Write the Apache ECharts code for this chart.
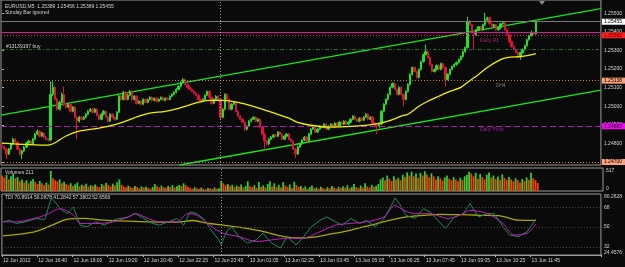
<!DOCTYPE html>
<html><head><meta charset="utf-8">
<script src="https://cdn.jsdelivr.net/npm/echarts@6/dist/echarts.min.js"></script>
<style>html,body{margin:0;padding:0;background:#0a0a0a;}#c{width:625px;height:267px;}</style>
</head><body><div id="c"></div>
<script>
// ---- data (prices in points: 1e-5 above 1.24000) ----
const timeLabels = ['12 Jun 2012','12 Jun 16:40','12 Jun 18:00','12 Jun 19:20','12 Jun 20:40','12 Jun 22:25','12 Jun 23:45','13 Jun 01:05','13 Jun 02:25','13 Jun 03:45','13 Jun 05:05','13 Jun 06:25','13 Jun 07:45','13 Jun 09:05','13 Jun 10:25','13 Jun 11:45'];
const priceTicks = [700,800,900,1000,1100,1200,1300,1400,1500];
const firstOpen = 790;
const closePts = [
781,770,743,770,797,823,807,770,743,759,
781,802,813,797,823,850,866,839,856,834,
823,818,1064,1102,1037,984,1021,1064,1011,995,
1011,973,995,941,920,941,930,941,957,973,
984,968,984,952,930,957,973,941,920,957,
941,930,968,1054,1037,1075,1037,1059,1080,1037,
1054,1016,1027,1011,1037,1021,1037,1048,1032,1043,
1027,1037,1048,1032,1043,1037,1054,1064,1075,1091,
1107,1128,1144,1118,1102,1091,1080,1070,1059,1037,
1027,1037,1059,1080,1048,1016,1037,1054,1037,941,
984,1064,1037,984,1011,1021,973,947,930,914,
877,893,920,930,941,920,930,888,850,813,
797,823,834,845,839,861,850,823,839,850,
823,813,770,743,781,797,818,834,813,850,
877,888,861,877,893,888,904,877,893,904,
888,909,893,914,904,920,904,914,930,947,
930,920,936,925,941,957,930,941,909,898,
893,904,973,1011,1037,1064,1102,1123,1091,1064,
1102,1064,1037,1080,1118,1171,1209,1187,1155,1198,
1241,1278,1294,1262,1225,1187,1198,1219,1198,1230,
1209,1144,1171,1198,1214,1225,1235,1251,1268,1294,
1316,1455,1439,1401,1385,1412,1428,1412,1439,1465,
1476,1444,1428,1439,1412,1423,1444,1449,1412,1385,
1348,1321,1305,1289,1273,1289,1305,1326,1358,1380,
1396,1389,1455];
const highPts = [
796,786,774,776,803,830,828,812,775,765,
787,808,820,818,829,856,874,870,862,860,
840,828,1134,1134,1110,1045,1030,1075,1107,1018,
1018,1016,1002,1000,946,948,947,947,963,980,
990,990,991,989,957,963,979,978,946,963,
962,946,974,1062,1060,1083,1080,1066,1088,1085,
1060,1059,1033,1032,1043,1042,1042,1054,1053,1048,
1048,1043,1053,1053,1048,1048,1059,1070,1081,1097,
1114,1135,1152,1149,1123,1107,1096,1086,1075,1064,
1043,1043,1064,1086,1086,1053,1043,1059,1059,1043,
990,1070,1070,1043,1016,1027,1027,979,952,936,
920,898,925,936,946,946,936,936,893,856,
818,829,840,850,850,866,866,856,845,856,
856,829,818,775,786,802,823,840,840,856,
882,893,893,882,898,898,909,909,898,909,
909,914,914,920,920,925,925,920,936,952,
952,936,941,941,947,963,963,947,947,914,
904,909,979,1016,1043,1070,1107,1128,1128,1096,
1107,1107,1070,1086,1123,1177,1214,1214,1193,1203,
1246,1284,1332,1300,1268,1230,1203,1225,1225,1235,
1235,1214,1177,1203,1219,1230,1241,1257,1273,1300,
1321,1482,1465,1444,1407,1417,1433,1433,1444,1503,
1482,1482,1449,1444,1444,1428,1449,1455,1455,1417,
1391,1353,1326,1310,1294,1294,1310,1332,1364,1385,
1407,1401,1456];
const lowPts = [
776,764,716,738,765,792,801,764,735,716,
754,776,797,790,792,818,845,833,834,828,
817,812,812,1055,1030,976,978,1015,1000,988,
990,966,968,935,823,912,924,925,936,952,
968,962,963,946,924,925,951,935,913,915,
935,924,925,963,1030,1032,1031,1032,1053,1030,
1032,1010,1011,1005,1006,1016,1016,1032,1027,1027,
1022,1022,1032,1027,1027,1032,1032,1049,1059,1070,
1086,1102,1122,1112,1096,1086,1075,1064,1054,1032,
1021,1022,1032,1054,1043,1010,1011,1032,1032,925,
935,978,1032,978,978,1005,968,941,925,909,
866,871,888,914,925,914,914,882,845,765,
790,792,818,829,834,834,845,818,818,834,
818,807,765,722,738,776,792,813,807,807,
845,872,856,856,872,882,882,872,872,888,
882,882,888,888,898,898,898,898,909,925,
925,914,914,920,920,936,925,925,904,893,
850,882,898,968,1005,1032,1059,1096,1086,1059,
1059,1059,1000,1032,1075,1112,1166,1182,1150,1150,
1193,1235,1273,1257,1219,1182,1182,1193,1193,1193,
1203,1107,1139,1166,1193,1209,1219,1230,1246,1262,
1289,1310,1433,1396,1305,1380,1407,1407,1407,1433,
1460,1439,1423,1423,1407,1407,1417,1439,1407,1380,
1342,1316,1300,1284,1262,1251,1284,1300,1321,1353,
1375,1384,1389];
const maPoints = [[0,802],[21,791],[29,840],[35,866],[44,882],[52,904],[56,920],[62,947],[67,963],[74,973],[80,989],[86,1011],[89,1021],[94,1032],[100,1032],[107,1021],[115,995],[122,968],[130,936],[134,914],[140,898],[148,888],[160,893],[169,904],[175,920],[181,947],[184,957],[189,1000],[193,1027],[198,1054],[203,1080],[208,1102],[211,1128],[216,1171],[220,1209],[226,1251],[229,1262],[235,1268],[238,1273],[242,1284]];
const upperChannel = [[-0.5,953],[271.5,1526]];
const lowerChannel = [[80.4,684],[271.5,1087]];
const volumes = [
400,350,420,300,380,440,330,360,
250,300,220,280,200,260,310,
240,180,260,200,150,220,170,
517,
330,280,250,300,200,240,180,
150,200,130,170,220,120,160,140,190,110,150,130,170,120,100,
180,140,210,160,120,190,150,230,300,
160,120,90,140,110,80,130,100,70,120,90,110,80,60,100,
180,120,90,140,100,80,130,110,150,90,120,160,130,200,150,110,
80,60,100,70,50,90,60,40,80,70,50,90,60,70,
260,
200,150,180,120,160,100,140,
110,170,90,130,250,120,100,150,80,230,110,140,90,180,
250,120,200,100,160,90,230,140,110,170,80,240,150,100,130,
80,120,60,100,140,70,90,60,110,80,50,100,70,130,90,60,110,80,
120,90,150,70,110,180,100,80,140,90,200,120,90,160,110,130,180,
300,350,280,400,320,260,380,300,340,280,
420,360,480,400,500,380,450,340,470,400,510,430,350,460,380,
300,380,330,270,350,400,320,280,360,300,250,340,290,380,420,500,450,
380,470,320,440,360,300,420,480,350,400,310,370,290,430,340,280,360,300,
250,330,280,220,310,260,350,290,470,330,280,211];
const tdiRsi = [[0,54.8],[3,56.3],[6,53.3],[10,54.8],[15,57.8],[19,57],[22,77],[26,66.8],[29,62.3],[32,68.3],[35,51.8],[38,50.3],[42,54.8],[46,51.8],[51,57],[57,59.3],[60,62.3],[64,57.8],[68,53.3],[71,51.8],[75,54.8],[79,57.8],[82,51.8],[85,63.8],[88,62.3],[91,57.8],[95,45.8],[98,38.3],[99,34],[102,47.3],[104,50.3],[107,41.3],[111,35.3],[115,38.3],[118,44.3],[122,35.3],[126,30.8],[129,41.3],[133,33.8],[136,39.8],[140,50.3],[144,56.3],[147,59.3],[151,54.8],[154,51.8],[158,57.8],[162,53.3],[165,56.3],[169,50.3],[173,57.8],[176,68.3],[178,76.7],[180,71.4],[183,60.8],[187,57.8],[191,66.8],[194,63.8],[198,54.8],[201,48.8],[205,59.3],[209,62.3],[212,71.4],[216,59.3],[220,62.3],[223,62.3],[227,50.3],[230,42.8],[234,41.3],[238,45.8],[242,57.4]];
const tdiSignal = [[0,54.8],[6,54.8],[14,57.8],[19,60.8],[26,66.8],[32,60.8],[35,53.3],[42,53.3],[50,54.8],[57,59.3],[60,62.3],[66,57.8],[71,54.8],[79,54.8],[84,62.3],[88,60.8],[93,53.3],[97,47.3],[100,44.3],[107,41.3],[115,36.8],[122,38.3],[129,39.8],[136,39.8],[144,45.8],[151,51.8],[158,53.3],[165,54.8],[173,59.3],[178,69.8],[182,65.3],[187,62.3],[194,62.3],[202,57.8],[209,62.3],[212,65.3],[220,62.3],[227,53.3],[232,42.8],[238,44.3],[242,52.7]];
const tdiBase = [[0,42],[8,43.5],[15,46],[22,51.5],[29,57],[37,58],[44,56.5],[62,55],[79,54.5],[86,56],[93,53.5],[99,52],[107,50],[117,46.5],[126,42],[133,40],[140,40.5],[149,43.7],[158,47.3],[167,51.8],[176,56.3],[183,59.3],[191,60.8],[198,61.7],[207,61.4],[216,60.8],[225,60.5],[234,56.3],[242,56.1]];
const tdiLevels = [32, 50, 68];

// ---- chart ----
const FONT = 'Liberation Sans';
const TXT = '#d4d4d4';
const fmtP = v => (1.24 + v / 1e5).toFixed(5);
const slots = Array.from({length: 272}, (_, i) => String(i));
const opens = [firstOpen].concat(closePts.slice(0, -1));
const candles = closePts.map((c, i) => [opens[i], c, lowPts[i], highPts[i]]);
const volItems = volumes.map((v, i) => ({value: v, itemStyle: {color: (i > 0 && v > volumes[i - 1]) ? '#33cc33' : '#ff3b0a'}}));
const tickFn = (idx) => idx % 16 === 0 && idx <= 240;

function hl(v, color, type, box, fg) {
  const o = {yAxis: v, lineStyle: {color: color, type: type, width: 1}};
  o.label = box ? {show: true, position: 'end', distance: 1, formatter: fmtP(v), backgroundColor: box, color: fg || '#000', fontSize: 5, fontFamily: FONT, padding: [1, 3, 0, 2]} : {show: false};
  return o;
}
const vline = {xAxis: 99, lineStyle: {color: '#9a9a9a', type: [1, 2], width: 1}, label: {show: false}};

const chart = echarts.init(document.getElementById('c'), null, {renderer: 'canvas', width: 625, height: 267});
chart.setOption({
  animation: false,
  backgroundColor: '#0a0a0a',
  textStyle: {fontFamily: FONT},
  grid: [
    {left: 1, top: 0, width: 602, height: 165, show: true, borderColor: '#9a9a9a', borderWidth: 1, backgroundColor: 'transparent'},
    {left: 1, top: 168, width: 602, height: 23, show: true, borderColor: '#9a9a9a', borderWidth: 1},
    {left: 1, top: 194, width: 602, height: 61, show: true, borderColor: '#9a9a9a', borderWidth: 1}
  ],
  xAxis: [
    {type: 'category', gridIndex: 0, data: slots, boundaryGap: true, axisLine: {show: false}, axisTick: {show: false}, axisLabel: {show: false}},
    {type: 'category', gridIndex: 1, data: slots, boundaryGap: true, axisLine: {show: false}, axisTick: {show: false}, axisLabel: {show: false}},
    {type: 'category', gridIndex: 2, data: slots, boundaryGap: true,
      axisLine: {show: true, lineStyle: {color: '#9a9a9a'}},
      axisTick: {show: true, interval: tickFn, length: 2, lineStyle: {color: '#bbbbbb'}},
      axisLabel: {show: true, interval: tickFn, align: 'left', margin: 3, color: TXT, fontSize: 5, fontFamily: FONT,
        formatter: (v, idx) => (idx % 16 === 0 && idx / 16 < timeLabels.length) ? timeLabels[idx / 16] : ''}},
    {type: 'value', gridIndex: 0, min: -0.5, max: 271.5, show: false},
    {type: 'value', gridIndex: 2, min: -0.5, max: 271.5, show: false}
  ],
  yAxis: [
    {type: 'value', gridIndex: 0, position: 'right', min: 684, max: 1572, scale: true, splitLine: {show: false},
      axisLine: {show: false}, axisTick: {show: true, customValues: priceTicks, length: 2, lineStyle: {color: '#bbbbbb'}},
      axisLabel: {customValues: priceTicks, formatter: fmtP, color: TXT, fontSize: 5, fontFamily: FONT, margin: 3}},
    {type: 'value', gridIndex: 1, position: 'right', min: 0, max: 595, splitLine: {show: false},
      axisLine: {show: false}, axisTick: {show: false},
      axisLabel: {customValues: [0, 517], color: TXT, fontSize: 5, fontFamily: FONT, margin: 3, verticalAlignMinLabel: 'bottom'}},
    {type: 'value', gridIndex: 2, position: 'right', min: 24.4576, max: 80.2628, splitLine: {show: false},
      axisLine: {show: false}, axisTick: {show: false},
      axisLabel: {customValues: [24.4576, 32, 50, 68, 80.2628], color: TXT, fontSize: 5, fontFamily: FONT, margin: 3,
        verticalAlignMinLabel: 'bottom', verticalAlignMaxLabel: 'top', formatter: v => String(v)}}
  ],
  series: [
    {type: 'line', xAxisIndex: 3, yAxisIndex: 0, data: upperChannel, symbol: 'none', lineStyle: {color: '#19e619', width: 1.3}, silent: true, z: 3},
    {type: 'line', xAxisIndex: 3, yAxisIndex: 0, data: lowerChannel, symbol: 'none', lineStyle: {color: '#19e619', width: 1.3}, silent: true, z: 3},
    {type: 'candlestick', xAxisIndex: 0, yAxisIndex: 0, data: candles, barWidth: 1.8, z: 4,
      itemStyle: {color: '#22e022', color0: '#f01010', borderColor: '#22e022', borderColor0: '#e01040', borderWidth: 1},
      markLine: {silent: true, symbol: ['none', 'none'], animation: false, data: [
        hl(1455, '#7a7a7a', 'solid', '#ffffff', '#000'),
        hl(1400, '#c81fa0', 'solid', null),
        hl(1382, '#ff2a2a', [1, 2], '#ff2020', '#500000'),
        hl(1305, '#2f6a2f', [4, 2, 1, 2], null),
        hl(1138, '#d2783c', [1, 2], '#ffa07a', '#000'),
        hl(893, '#b020b0', [6, 3], '#ff00ff', '#000'),
        hl(700, '#d2783c', [1, 2], '#ffa07a', '#000'),
        vline
      ]}},
    {type: 'line', xAxisIndex: 3, yAxisIndex: 0, data: maPoints, symbol: 'none', smooth: 0.3, lineStyle: {color: '#f0f000', width: 1.3}, silent: true, z: 5},
    {type: 'scatter', xAxisIndex: 3, yAxisIndex: 0, symbolSize: 0, silent: true, z: 6,
      data: [
        {value: [221, 1356], label: {formatter: 'Daily R1', color: '#c8307a'}},
        {value: [226, 1112], label: {formatter: 'DH4', color: '#a08c78'}},
        {value: [222, 872], label: {formatter: 'Daily Pivot', color: '#c81fc8'}}
      ],
      label: {show: true, position: 'inside', fontSize: 5, fontFamily: FONT}},
    {type: 'bar', xAxisIndex: 1, yAxisIndex: 1, data: volItems, barWidth: 1.8, silent: true,
      markLine: {silent: true, symbol: ['none', 'none'], data: [vline]}},
    {type: 'line', xAxisIndex: 4, yAxisIndex: 2, data: tdiBase, symbol: 'none', smooth: 0.3, lineStyle: {color: '#a8a800', width: 1.3}, silent: true, z: 3,
      markLine: {silent: true, symbol: ['none', 'none'], data: tdiLevels.map(v => ({yAxis: v, lineStyle: {color: '#4a4a4a', type: [1, 2], width: 1}, label: {show: false}})).concat([vline])}},
    {type: 'line', xAxisIndex: 4, yAxisIndex: 2, data: tdiRsi, symbol: 'none', lineStyle: {color: '#1f8a5a', width: 1}, silent: true, z: 4},
    {type: 'line', xAxisIndex: 4, yAxisIndex: 2, data: tdiSignal, symbol: 'none', smooth: 0.3, lineStyle: {color: '#c020c0', width: 1}, silent: true, z: 5}
  ],
  graphic: [
    {type: 'text', x: 5, y: 6.5, style: {text: 'EURUSD,M5  1.25389 1.25456 1.25389 1.25455', fill: TXT, font: '5px "Liberation Sans"', verticalAlign: 'middle'}},
    {type: 'text', x: 5, y: 13, style: {text: 'Sunday Bar ignored', fill: TXT, font: '5px "Liberation Sans"', verticalAlign: 'middle'}},
    {type: 'text', x: 6, y: 46.5, style: {text: '#13139197 buy', fill: TXT, font: '5px "Liberation Sans"', verticalAlign: 'middle'}},
    {type: 'text', x: 5, y: 173, style: {text: 'Volumes 211', fill: TXT, font: '5px "Liberation Sans"', verticalAlign: 'middle'}},
    {type: 'text', x: 5, y: 198, style: {text: 'TDI 70.8914 56.0878 41.2842 57.3802 52.6566', fill: TXT, font: '5px "Liberation Sans"', verticalAlign: 'middle'}},
    {type: 'polygon', shape: {points: [[539, 1], [545, 1], [542, 5]]}, style: {fill: '#8c8c8c'}}
  ]
});
</script></body></html>
